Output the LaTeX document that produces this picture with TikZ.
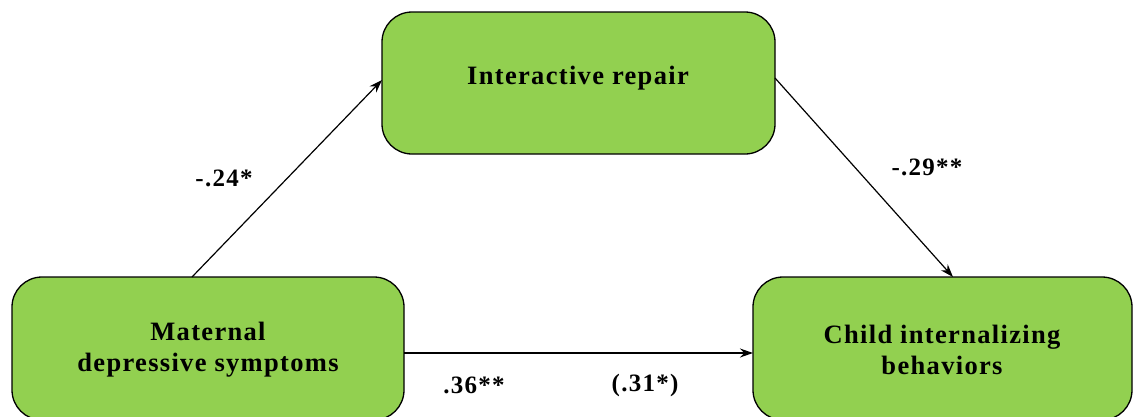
\documentclass[tikz,border=0pt]{standalone}
\usepackage{fontspec}
\setmainfont{Liberation Serif}[LetterSpace=5]
\usetikzlibrary{arrows.meta}
\definecolor{boxgreen}{HTML}{92D050}
\begin{document}
\begin{tikzpicture}[x=1pt,y=-1pt,
  varbox/.style={draw=black, line width=1.3pt, fill=boxgreen, rounded corners=30pt},
  boxtext/.style={font=\fontsize{26.5}{31}\selectfont\bfseries, align=center, inner sep=0pt},
  coef/.style={font=\fontsize{25}{28}\selectfont\bfseries, inner sep=0pt},
  conn/.style={line width=1.2pt, -{Stealth[length=13pt,width=9pt]}}]
\useasboundingbox (0,0) rectangle (1133,416);
\begin{scope}
\clip (0,0) rectangle (1133,416);
\draw[varbox] (382,12) rectangle (775,154);
\draw[varbox] (12,277) rectangle (404,420);
\draw[varbox] (753,277) rectangle (1132,420);
\end{scope}
\node[boxtext] (ir) at (578,78) {Interactive\ repair};
\node[boxtext] (mds) at (208,350) {Maternal\\depressive\ symptoms};
\node[boxtext] (cib) at (942,350) {Child\ internalizing\\behaviors};
\coordinate (aS) at (192,277);
\coordinate (aE) at (382,80);
\coordinate (bS) at (775,78);
\coordinate (bE) at (953,277);
\coordinate (cS) at (404,353);
\coordinate (cE) at (753,353);
\draw[conn] (aS) -- (aE);
\draw[conn] (bS) -- (bE);
\draw[conn] (cS) -- (cE);
\node[coef] (l1) at (224,178) {-.24*};
\node[coef] (l2) at (927,167) {-.29**};
\node[coef] (l3) at (474,385) {.36**};
\node[coef] (l4) at (645,385) {(.31*)};
\end{tikzpicture}
\end{document}
